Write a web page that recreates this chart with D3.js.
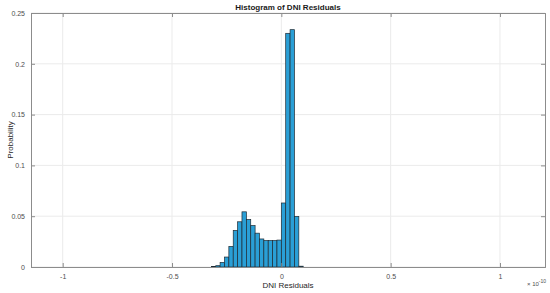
<!DOCTYPE html>
<html>
<head>
<meta charset="utf-8">
<script src="https://cdn.jsdelivr.net/npm/d3@7"></script>
<style>
  body { margin: 0; background: #fff; }
  svg { font-family: "Liberation Sans", Arial, sans-serif; }
</style>
</head>
<body>
<svg id="chart" width="550" height="293"></svg>
<script>
// bin edges in units of 1e-10, width 0.02
const binStart = -0.32;
const binWidth = 0.02;
const probabilities = [
  0.0004, 0.0013, 0.0045, 0.0098, 0.0203, 0.036, 0.0445, 0.0543,
  0.0467, 0.0408, 0.0333, 0.0276, 0.026, 0.026, 0.026, 0.0265,
  0.063, 0.230, 0.2336, 0.0498, 0.0008
];
const xTicks = [-1, -0.5, 0, 0.5, 1];
const yTicks = [0, 0.05, 0.1, 0.15, 0.2, 0.25];

const bins = probabilities.map((p, i) => ({
  x0: binStart + i * binWidth,
  x1: binStart + (i + 1) * binWidth,
  p: p
}));

const svg = d3.select("#chart");
const margin = {left: 31, right: 5, top: 13, bottom: 26};
const width = 550 - margin.left - margin.right;
const height = 293 - margin.top - margin.bottom;

const x = d3.scaleLinear().domain([-1.145, 1.206]).range([0, width]);
const y = d3.scaleLinear().domain([0, 0.25]).range([height, 0]);

const g = svg.append("g").attr("transform", `translate(${margin.left},${margin.top})`);

// grid
g.selectAll(".gx").data(xTicks).enter().append("line")
  .attr("x1", d => x(d)).attr("x2", d => x(d))
  .attr("y1", 0).attr("y2", height)
  .style("stroke", "#ebebeb").style("stroke-width", 1);
g.selectAll(".gy").data(yTicks).enter().append("line")
  .attr("x1", 0).attr("x2", width)
  .attr("y1", d => y(d)).attr("y2", d => y(d))
  .style("stroke", "#ebebeb").style("stroke-width", 1);

// bars
g.selectAll("rect").data(bins).enter().append("rect")
  .attr("x", d => x(d.x0))
  .attr("width", d => x(d.x1) - x(d.x0))
  .attr("y", d => y(d.p))
  .attr("height", d => y(0) - y(d.p))
  .style("fill", "#2a9fd6")
  .style("stroke", "#1e2a33")
  .style("stroke-width", 0.7);

// axes (MATLAB style box with inward ticks)
const tickLen = 4;
const axisColor = "#8c8c8c";
const fmt = d => d3.format("~g")(d).replace("\u2212", "-");

const xb = g.append("g").attr("transform", `translate(0,${height})`)
  .call(d3.axisBottom(x).tickValues(xTicks).tickSize(-tickLen).tickPadding(7).tickFormat(fmt));
const xt = g.append("g")
  .call(d3.axisTop(x).tickValues(xTicks).tickSize(-tickLen).tickFormat(""));
const yl = g.append("g")
  .call(d3.axisLeft(y).tickValues(yTicks).tickSize(-tickLen).tickPadding(6).tickFormat(fmt));
const yr = g.append("g").attr("transform", `translate(${width},0)`)
  .call(d3.axisRight(y).tickValues(yTicks).tickSize(-tickLen).tickFormat(""));

[xb, xt, yl, yr].forEach(a => {
  a.select(".domain").style("stroke", axisColor);
  a.selectAll(".tick line").style("stroke", axisColor);
  a.selectAll("text").style("fill", "#4d4d4d").style("font-size", "7px");
});

// title and labels
svg.append("text")
  .attr("x", margin.left + width / 2).attr("y", 10)
  .attr("text-anchor", "middle")
  .style("font-size", "8px").style("font-weight", "bold").style("fill", "#1a1a1a")
  .text("Histogram of DNI Residuals");

svg.append("text")
  .attr("x", margin.left + width / 2).attr("y", 288)
  .attr("text-anchor", "middle")
  .style("font-size", "8px").style("fill", "#262626")
  .text("DNI Residuals");

svg.append("text")
  .attr("transform", `translate(13,${margin.top + height / 2}) rotate(-90)`)
  .attr("text-anchor", "middle")
  .style("font-size", "8px").style("fill", "#262626")
  .text("Probability");

const ex = svg.append("text")
  .attr("x", 527).attr("y", 286)
  .style("font-size", "6px").style("fill", "#4d4d4d");
ex.append("tspan").text("× 10");
ex.append("tspan").attr("dy", -3).style("font-size", "5px").text("-10");
</script>
</body>
</html>
